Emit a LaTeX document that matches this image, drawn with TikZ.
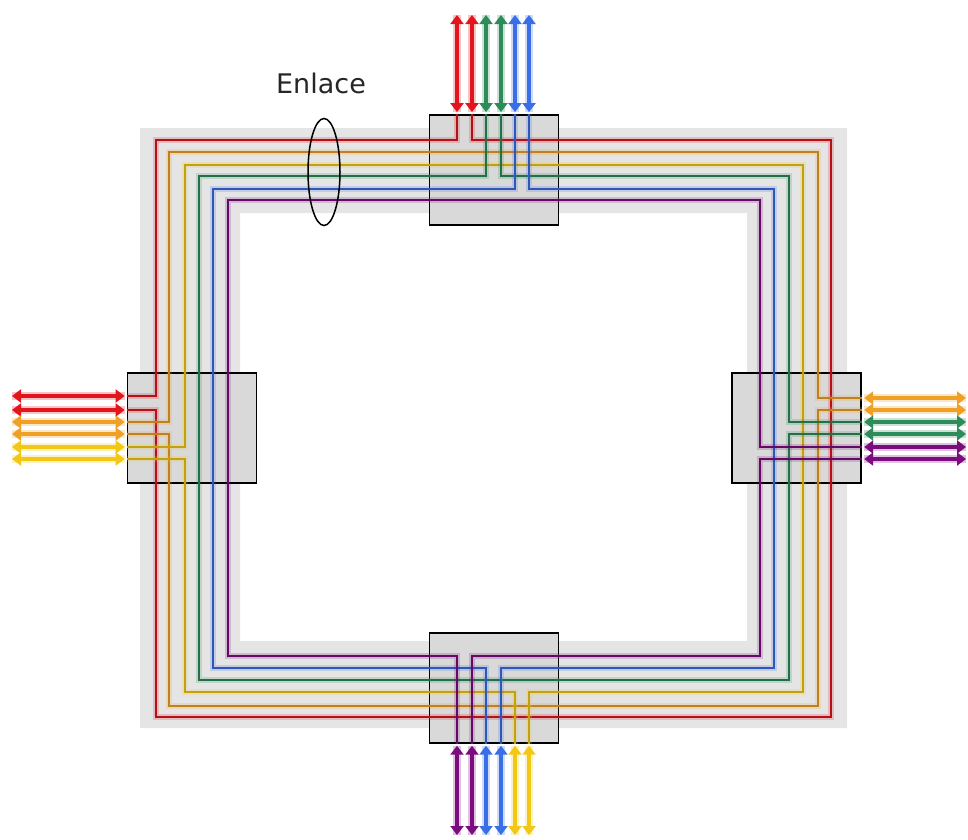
\documentclass[tikz,border=0pt]{standalone}
\usepackage{fontspec}
\usepackage{xcolor}
\usepackage{tikz}
\usetikzlibrary{shapes.geometric, positioning, arrows.meta}
\newfontfamily\enlacefont{DejaVu Sans}

\definecolor{wred}{HTML}{E2141C}
\definecolor{worange}{HTML}{F0A024}
\definecolor{wyellow}{HTML}{F2C814}
\definecolor{wgreen}{HTML}{2E8B5A}
\definecolor{wblue}{HTML}{3A6EE6}
\definecolor{wpurple}{HTML}{7A0C7E}

\begin{document}
\begin{tikzpicture}[
    x=1pt, y=-1pt,
    band/.style={fill=gray!20, even odd rule},
    box/.style={
        rectangle,
        minimum width=129pt,
        minimum height=110pt,
        inner sep=0pt,
        draw=black,
        line width=1.8pt,
        fill=gray!30
    },
    wire/.style={draw=#1!80!black, line width=1.6pt,
        preaction={draw=#1, draw opacity=0.2, line width=5.5pt}},
    link/.style={draw=#1, line width=4.2pt, <->, >={Triangle[length=9pt,width=13pt]},
        shorten <=2pt, preaction={draw=#1, draw opacity=0.25, line width=8pt, arrows=-}}
]
\useasboundingbox (0,0) rectangle (968,839);

% Ring
\fill[band] (140,128) rectangle (847,728) (240,213) rectangle (747,641);

% Nodes
\node (boxN) [box] at (494,170) {};
\node (boxS) [box, below=406pt of boxN] {};
\node (boxW) [box] at (192,428) {};
\node (boxE) [box, right=474pt of boxW] {};

% Free ends
\coordinate (tN1) at (457,15);  \coordinate (tN2) at (472,15);
\coordinate (tN3) at (486,15);  \coordinate (tN4) at (501,15);
\coordinate (tN5) at (515,15);  \coordinate (tN6) at (529,15);
\coordinate (tS1) at (457,835); \coordinate (tS2) at (472,835);
\coordinate (tS3) at (486,835); \coordinate (tS4) at (501,835);
\coordinate (tS5) at (515,835); \coordinate (tS6) at (529,835);
\coordinate (tW1) at (12,396);  \coordinate (tW2) at (12,410);
\coordinate (tW3) at (12,422);  \coordinate (tW4) at (12,434);
\coordinate (tW5) at (12,447);  \coordinate (tW6) at (12,459);
\coordinate (tE1) at (966,398); \coordinate (tE2) at (966,410);
\coordinate (tE3) at (966,422); \coordinate (tE4) at (966,434);
\coordinate (tE5) at (966,447); \coordinate (tE6) at (966,459);

% Wires
\draw [wire=wred] (tN2 |- boxN.north) -- (472,140) -- (831,140) -- (831,717) -- (156,717) -- (156,410) -- (tW2 -| boxW.west);
\draw [wire=wred] (tW1 -| boxW.west) -- (156,396) -- (156,140) -- (457,140) -- (tN1 |- boxN.north);
\draw [wire=worange] (tW3 -| boxW.west) -- (169,422) -- (169,152) -- (818,152) -- (818,398) -- (tE1 -| boxE.east);
\draw [wire=worange] (tE2 -| boxE.east) -- (818,410) -- (818,706) -- (169,706) -- (169,434) -- (tW4 -| boxW.west);
\draw [wire=wyellow] (tW5 -| boxW.west) -- (185,447) -- (185,165) -- (803,165) -- (803,692) -- (529,692) -- (tS6 |- boxS.south);
\draw [wire=wyellow] (tS5 |- boxS.south) -- (515,692) -- (185,692) -- (185,459) -- (tW6 -| boxW.west);
\draw [wire=wgreen] (tN3 |- boxN.north) -- (486,176) -- (199,176) -- (199,680) -- (789,680) -- (789,434) -- (tE4 -| boxE.east);
\draw [wire=wgreen] (tN4 |- boxN.north) -- (501,176) -- (789,176) -- (789,422) -- (tE3 -| boxE.east);
\draw [wire=wblue] (tN5 |- boxN.north) -- (515,189) -- (213,189) -- (213,668) -- (486,668) -- (tS3 |- boxS.south);
\draw [wire=wblue] (tN6 |- boxN.north) -- (529,189) -- (774,189) -- (774,668) -- (501,668) -- (tS4 |- boxS.south);
\draw [wire=wpurple] (tE5 -| boxE.east) -- (760,447) -- (760,200) -- (228,200) -- (228,656) -- (457,656) -- (tS1 |- boxS.south);
\draw [wire=wpurple] (tE6 -| boxE.east) -- (760,459) -- (760,656) -- (472,656) -- (tS2 |- boxS.south);

% Arrows
\draw [link=wred] (tN1 |- boxN.north) -- (tN1);
\draw [link=wred] (tN2 |- boxN.north) -- (tN2);
\draw [link=wgreen] (tN3 |- boxN.north) -- (tN3);
\draw [link=wgreen] (tN4 |- boxN.north) -- (tN4);
\draw [link=wblue] (tN5 |- boxN.north) -- (tN5);
\draw [link=wblue] (tN6 |- boxN.north) -- (tN6);
\draw [link=wpurple] (tS1 |- boxS.south) -- (tS1);
\draw [link=wpurple] (tS2 |- boxS.south) -- (tS2);
\draw [link=wblue] (tS3 |- boxS.south) -- (tS3);
\draw [link=wblue] (tS4 |- boxS.south) -- (tS4);
\draw [link=wyellow] (tS5 |- boxS.south) -- (tS5);
\draw [link=wyellow] (tS6 |- boxS.south) -- (tS6);
\draw [link=wred] (tW1 -| boxW.west) -- (tW1);
\draw [link=wred] (tW2 -| boxW.west) -- (tW2);
\draw [link=worange] (tW3 -| boxW.west) -- (tW3);
\draw [link=worange] (tW4 -| boxW.west) -- (tW4);
\draw [link=wyellow] (tW5 -| boxW.west) -- (tW5);
\draw [link=wyellow] (tW6 -| boxW.west) -- (tW6);
\draw [link=worange] (tE1 -| boxE.east) -- (tE1);
\draw [link=worange] (tE2 -| boxE.east) -- (tE2);
\draw [link=wgreen] (tE3 -| boxE.east) -- (tE3);
\draw [link=wgreen] (tE4 -| boxE.east) -- (tE4);
\draw [link=wpurple] (tE5 -| boxE.east) -- (tE5);
\draw [link=wpurple] (tE6 -| boxE.east) -- (tE6);

% Link label
\node (enlace) [ellipse, draw, line width=1.5pt, minimum width=32pt, minimum height=107pt, inner sep=0pt] at (324,172) {};
\node (lbl) [above=24pt of enlace, xshift=-3pt, inner sep=0pt, text=black!85,
    font=\enlacefont\fontsize{27pt}{31pt}\selectfont] {Enlace};

\end{tikzpicture}
\end{document}
